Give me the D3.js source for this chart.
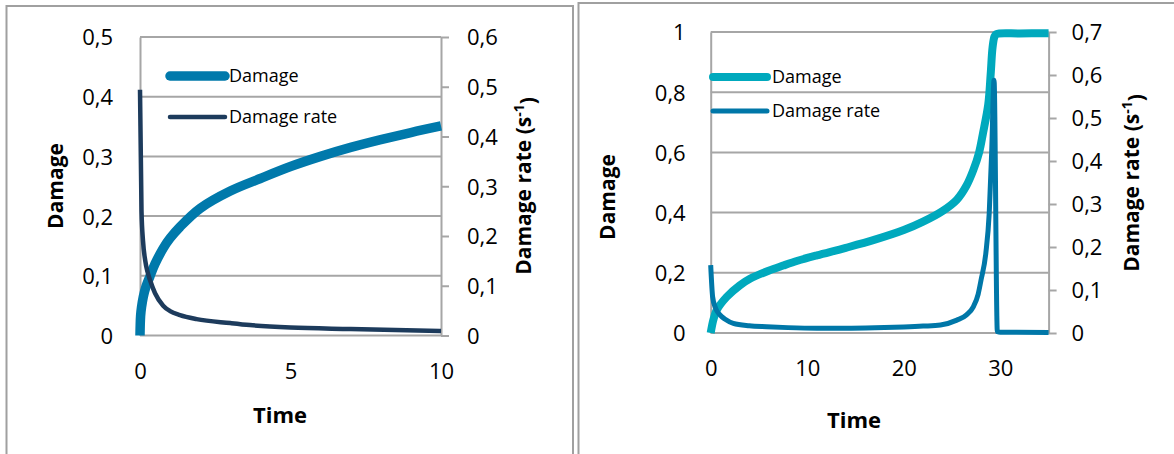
<!DOCTYPE html>
<html>
<head>
<meta charset="utf-8">
<script src="https://cdn.jsdelivr.net/npm/d3@7"></script>
<style>
  html, body { margin: 0; padding: 0; background: #fff; }
  svg { display: block; font-family: "Open Sans", sans-serif; }
</style>
</head>
<body>
<svg id="chart" width="1174" height="454"></svg>
<script>
// ---- Panel 1: fast-decaying damage rate ----
const p1DamageTime = [0, 0.02, 0.05, 0.11, 0.2, 0.33, 0.5, 0.77, 1, 1.33, 2, 3, 4, 5, 6, 7, 8, 9, 10];
const p1Damage     = [0, 0.033, 0.047, 0.065, 0.082, 0.099, 0.12, 0.146, 0.163, 0.182, 0.213, 0.242, 0.263, 0.283, 0.3, 0.315, 0.328, 0.34, 0.351];
const p1RateTime   = [0, 0.05, 0.1, 0.17, 0.25, 0.33, 0.5, 0.77, 1, 1.33, 1.88, 3, 3.65, 5, 7, 10];
const p1Rate       = [0.494, 0.25, 0.19, 0.152, 0.128, 0.112, 0.085, 0.06, 0.049, 0.041, 0.033, 0.025, 0.021, 0.016, 0.013, 0.009];
const p1TimeTicks   = [0, 5, 10];
const p1DamageTicks = [0, 0.1, 0.2, 0.3, 0.4, 0.5];
const p1RateTicks   = [0, 0.1, 0.2, 0.3, 0.4, 0.5, 0.6];

// ---- Panel 2: damage running to failure ----
const p2DamageTime = [0, 0.27, 0.62, 1.66, 3, 4.07, 6, 7.5, 9, 11, 14, 17, 20, 22, 24, 25.5, 26.5, 27.2, 27.8, 28.2, 28.75, 29.0, 29.2, 29.4, 29.6, 32, 35];
const p2Damage     = [0, 0.043, 0.076, 0.12, 0.158, 0.18, 0.207, 0.224, 0.24, 0.258, 0.283, 0.31, 0.342, 0.37, 0.405, 0.443, 0.49, 0.541, 0.6, 0.663, 0.76, 0.86, 0.95, 0.985, 0.993, 0.995, 0.996];
const p2RateTime   = [0, 0.2, 0.5, 0.96, 1.5, 2.34, 4, 5.8, 8, 11, 14, 17, 20, 22, 23.8, 25.5, 26.5, 27.2, 27.7, 28.0, 28.5, 28.85, 29.1, 29.35, 29.69, 30, 35];
const p2Rate       = [0.158, 0.084, 0.058, 0.042, 0.032, 0.0225, 0.017, 0.0147, 0.0125, 0.011, 0.011, 0.012, 0.014, 0.016, 0.0186, 0.03, 0.042, 0.061, 0.09, 0.123, 0.186, 0.279, 0.418, 0.588, 0.003, 0.002, 0.001];
const p2TimeTicks   = [0, 10, 20, 30];
const p2DamageTicks = [0, 0.2, 0.4, 0.6, 0.8, 1];
const p2RateTicks   = [0, 0.1, 0.2, 0.3, 0.4, 0.5, 0.6, 0.7];

const seriesNames = ["Damage", "Damage rate"];
const xTitle = "Time";
const yTitle = "Damage";

const fmt = d3.formatLocale({ decimal: ",", thousands: " ", grouping: [3], currency: ["", ""] }).format(".1~f");
const gridColor = "#A6A6A6";
const svg = d3.select("#chart");

function zip(a, b) { return a.map((v, i) => [v, b[i]]); }

function drawPanel(p) {
  const g = svg.append("g");

  // outer frame
  g.append("rect")
    .attr("x", p.frame[0]).attr("y", p.frame[1])
    .attr("width", p.frame[2]).attr("height", p.frame[3])
    .attr("fill", "none").attr("stroke", "#A0A0A0").attr("stroke-width", 2);

  const x  = d3.scaleLinear().domain(p.xDomain).range([p.left, p.right]);
  const y  = d3.scaleLinear().domain([0, d3.max(p.yTicks)]).range([p.bottom, p.top]);
  const y2 = d3.scaleLinear().domain([0, d3.max(p.y2Ticks)]).range([p.bottom, p.top]);

  // horizontal gridlines
  g.append("g").selectAll("line").data(p.yTicks).join("line")
    .attr("x1", p.left).attr("x2", p.right)
    .attr("y1", d => y(d)).attr("y2", d => y(d))
    .attr("stroke", gridColor).attr("stroke-width", 2);

  // left axis
  const gl = g.append("g").attr("transform", `translate(${p.left},0)`)
    .call(d3.axisLeft(y).tickValues(p.yTicks).tickSize(0).tickPadding(p.leftPad).tickFormat(fmt));
  // right axis
  const gr = g.append("g").attr("transform", `translate(${p.right},0)`)
    .call(d3.axisRight(y2).tickValues(p.y2Ticks).tickSizeInner(8).tickSizeOuter(0).tickPadding(p.rightPad).tickFormat(fmt));
  // bottom axis (labels only; baseline is the zero gridline)
  const gb = g.append("g").attr("transform", `translate(0,${p.bottom})`)
    .call(d3.axisBottom(x).tickValues(p.xTicks).tickSize(0).tickPadding(p.bottomPad).tickFormat(fmt));
  gb.select(".domain").remove();

  [gl, gr, gb].forEach(a => {
    a.attr("font-family", null).attr("font-size", null);
    a.selectAll(".domain").attr("stroke", gridColor).attr("stroke-width", 2);
    a.selectAll(".tick line").attr("stroke", gridColor).attr("stroke-width", 2);
    a.selectAll("text").attr("fill", "#000").style("font-size", "22px");
  });
  gl.selectAll("text").attr("dy", "0.36em");
  gr.selectAll("text").attr("dy", "0.36em");

  // series: damage as a smooth spline, rate as a monotone curve (keeps the sharp drop clean)
  const damageLine = d3.line().curve(d3.curveCatmullRom.alpha(0.5));
  const rateLine = d3.line().curve(d3.curveMonotoneX);
  g.append("path")
    .datum(zip(p.damageTime, p.damage).map(d => [x(d[0]), y(d[1])]))
    .attr("d", damageLine).attr("fill", "none")
    .attr("stroke", p.damageColor).attr("stroke-width", p.damageWidth)
    .attr("stroke-linejoin", "round");
  g.append("path")
    .datum(zip(p.rateTime, p.rate).map(d => [x(d[0]), y2(d[1])]))
    .attr("d", rateLine).attr("fill", "none")
    .attr("stroke", p.rateColor).attr("stroke-width", p.rateWidth)
    .attr("stroke-linejoin", "round");

  // legend
  const leg = g.append("g");
  const items = [
    { name: seriesNames[0], color: p.damageColor, width: p.damageWidth, y: p.legendY[0] },
    { name: seriesNames[1], color: p.rateColor, width: p.rateWidth, y: p.legendY[1] }
  ];
  items.forEach(it => {
    leg.append("line")
      .attr("x1", p.legendX[0]).attr("x2", p.legendX[1])
      .attr("y1", it.y).attr("y2", it.y)
      .attr("stroke", it.color).attr("stroke-width", it.width)
      .attr("stroke-linecap", "round");
    leg.append("text")
      .attr("x", p.legendX[2]).attr("y", it.y).attr("dy", "0.36em")
      .style("font-size", "18px").attr("fill", "#000")
      .text(it.name);
  });

  // axis titles
  g.append("text")
    .attr("transform", `translate(${p.xTitle[0]},${p.xTitle[1]})`)
    .attr("text-anchor", "middle").style("font-size", "22px").style("font-weight", "bold")
    .text(xTitle);
  g.append("text")
    .attr("transform", `translate(${p.yTitle[0]},${p.yTitle[1]}) rotate(-90)`)
    .attr("text-anchor", "middle").style("font-size", "21px").style("font-weight", "bold")
    .text(yTitle);
  const t2 = g.append("text")
    .attr("transform", `translate(${p.y2Title[0]},${p.y2Title[1]}) rotate(-90)`)
    .attr("text-anchor", "middle").style("font-size", "21px").style("font-weight", "bold");
  t2.append("tspan").text("Damage rate (s");
  t2.append("tspan").attr("dy", "-0.5em").style("font-size", "14px").text("-1");
  t2.append("tspan").attr("dy", "0.5em").text(")");
}

drawPanel({
  frame: [6.5, 6, 566.5, 470],
  left: 140, right: 441, top: 37, bottom: 335.5,
  xDomain: [0, 10], xTicks: p1TimeTicks, yTicks: p1DamageTicks, y2Ticks: p1RateTicks,
  leftPad: 27, rightPad: 18, bottomPad: 27.5,
  damageTime: p1DamageTime, damage: p1Damage, rateTime: p1RateTime, rate: p1Rate,
  damageColor: "#0079AB", damageWidth: 9.5, rateColor: "#1D3B5C", rateWidth: 4.5,
  legendX: [170, 225, 229], legendY: [76, 117],
  xTitle: [280, 423], yTitle: [63, 186], y2Title: [531, 186]
});

drawPanel({
  frame: [578.5, 3, 640, 480],
  left: 710.7, right: 1048.6, top: 32, bottom: 333,
  xDomain: [0, 35], xTicks: p2TimeTicks, yTicks: p2DamageTicks, y2Ticks: p2RateTicks,
  leftPad: 25, rightPad: 15, bottomPad: 27,
  damageTime: p2DamageTime, damage: p2Damage, rateTime: p2RateTime, rate: p2Rate,
  damageColor: "#00A9BD", damageWidth: 8, rateColor: "#0077A8", rateWidth: 5,
  legendX: [713, 767, 772], legendY: [77, 111],
  xTitle: [854, 428], yTitle: [615, 197], y2Title: [1139, 183]
});
</script>
</body>
</html>
